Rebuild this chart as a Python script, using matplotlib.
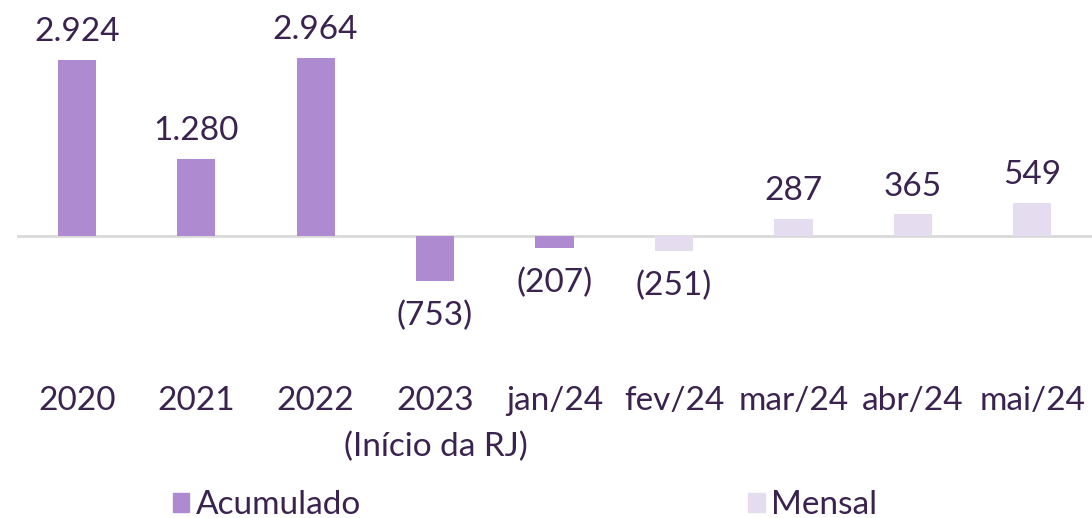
import matplotlib
matplotlib.use("Agg")
import matplotlib.pyplot as plt
from matplotlib.patches import Patch
import numpy as np

categories = ['2020', '2021', '2022', '2023', 'jan/24', 'fev/24', 'mar/24', 'abr/24', 'mai/24']
subtitle_2023 = '(Início da RJ)'
acumulado = [2924, 1280, 2964, -753, -207, None, None, None, None]
mensal = [None, None, None, None, None, -251, 287, 365, 549]

c_acum = '#ae8bd0'
c_mens = '#e5ddef'
c_text = '#3b2350'

plt.rcParams['font.family'] = ['Lato', 'DejaVu Sans']

fig = plt.figure(figsize=(10.92, 5.18), dpi=100)
ax = fig.add_axes([17/1092, 1 - 360/518, 1 - 17/1092, 360/518])

x = np.arange(len(categories))
w = 0.32

def fmt(v):
    s = f"{abs(v):,}".replace(',', '.')
    return f"({s})" if v < 0 else s

for series, col in ((acumulado, c_acum), (mensal, c_mens)):
    for i, v in enumerate(series):
        if v is None:
            continue
        ax.bar(x[i], v, width=w, color=col, zorder=2)
        if v >= 0:
            ax.annotate(fmt(v), (x[i], v), xytext=(0, 9), textcoords='offset points',
                        ha='center', va='bottom', fontsize=24, color=c_text)
        else:
            ax.annotate(fmt(v), (x[i], v), xytext=(0, -14), textcoords='offset points',
                        ha='center', va='top', fontsize=24, color=c_text)

ax.axhline(0, color='#d9d9d9', linewidth=2, zorder=1)
ax.set_xlim(-0.5, len(categories) - 0.5)
ax.set_ylim(-2060, 3920)
ax.set_xticks(x)
ax.set_xticklabels(categories, fontsize=24, color=c_text)
ax.tick_params(axis='x', length=0, pad=19)
ax.set_yticks([])
for s in ax.spines.values():
    s.set_visible(False)

ax.annotate(subtitle_2023, (x[3], 0), xycoords=('data', 'figure fraction'),
            xytext=(0, 0), textcoords='offset points',
            ha='center', va='center', fontsize=24, color=c_text)
ax.texts[-1].set_position((x[3] - 0.03, 1 - 447/518))
ax.texts[-1].xy = (x[3] - 0.03, 1 - 447/518)

handles = [Patch(color=c_acum, label='Acumulado'), Patch(color=c_mens, label='Mensal')]
leg = fig.legend(handles=handles, loc='center', bbox_to_anchor=(525/1092, 1 - 505/518), ncol=2,
                 frameon=False, fontsize=24, handlelength=0.5, handleheight=0.5,
                 handletextpad=0.2, columnspacing=11.6)
for t in leg.get_texts():
    t.set_color(c_text)

fig.savefig('out.png', dpi=100)
